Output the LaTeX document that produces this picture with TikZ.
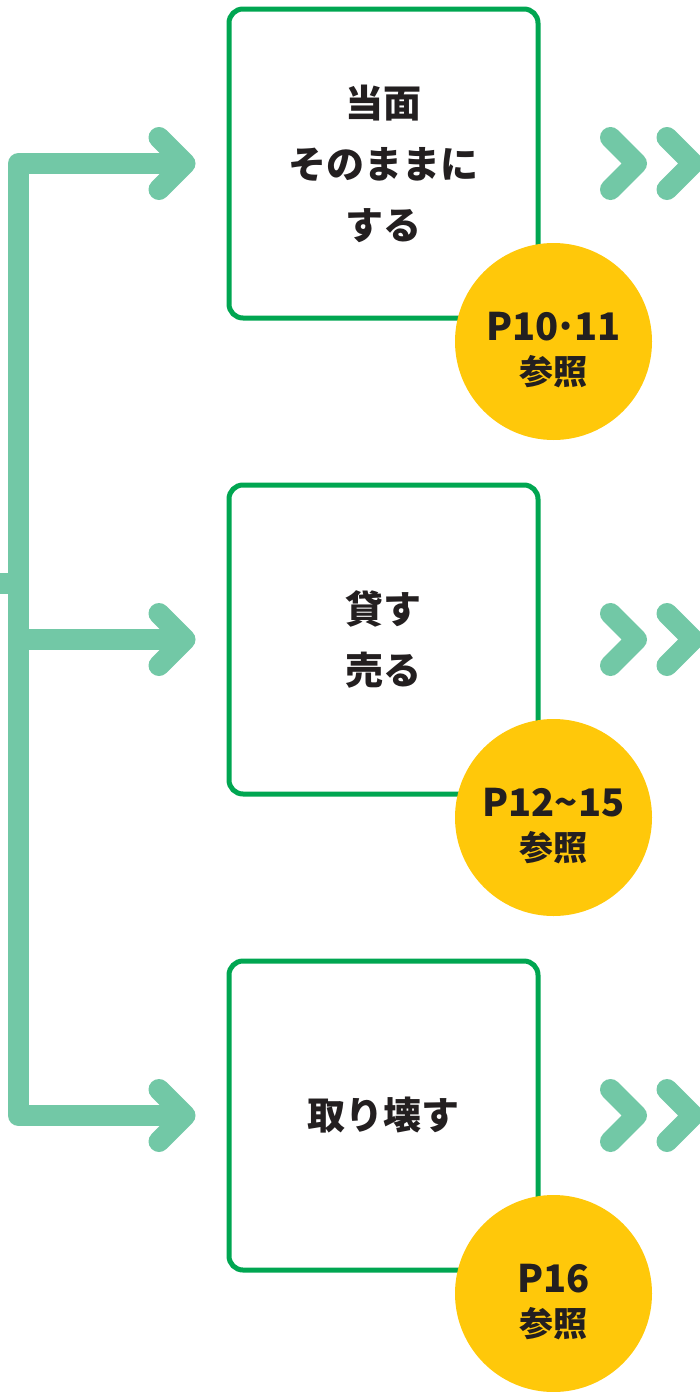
\documentclass[tikz,border=0pt]{standalone}
\usepackage{fontspec}
\setmainfont{Noto Sans CJK JP}
\usetikzlibrary{positioning,calc}
\definecolor{boxgreen}{RGB}{0,166,81}
\definecolor{armgreen}{RGB}{114,200,166}
\definecolor{refyellow}{RGB}{255,200,10}
\definecolor{textdark}{RGB}{35,31,32}
\tikzset{
  choice/.style={draw=boxgreen, fill=white, line width=5pt, rounded corners=14pt,
    minimum width=309pt, minimum height=309pt, align=center, text=textdark,
    font=\fontsize{38}{61}\selectfont\bfseries},
  refdot/.style={circle, fill=refyellow, minimum size=197pt, inner sep=0pt},
  pagetext/.style={text=textdark, inner sep=0pt, font=\fontsize{38}{40}\selectfont\bfseries},
  seetext/.style={text=textdark, inner sep=0pt, font=\fontsize{34}{36}\selectfont\bfseries},
  arm/.style={draw=armgreen, line width=21pt, line join=round},
  chev/.style={arm, line cap=round},
}

\begin{document}
\begin{tikzpicture}[x=1pt, y=-1pt]
  \useasboundingbox (0,0) rectangle (700,1392);
  \clip (0,0) rectangle (700,1392);

  % Define nodes
  \node[choice]                   (opt1) at (383.5,163.5) {当面\\そのままに\\する};
  \node[choice, below=162pt of opt1] (opt2) {貸す\\売る};
  \node[choice, below=162pt of opt2] (opt3) {取り壊す};

  \node[refdot] (ref1) at ($(opt1.center)+(170,178)$) {};
  \node[refdot] (ref2) at ($(opt2.center)+(170,178)$) {};
  \node[refdot] (ref3) at ($(opt3.center)+(170,178)$) {};

  \node[pagetext] (pg1) at ($(ref1)+(0,-14.5)$) {P10\kern-4pt·\kern-4pt11};
  \node[seetext]  (see1) at ($(ref1)+(0,30.5)$) {参照};
  \node[pagetext] (pg2) at ($(ref2)+(0,-14.5)$) {P12\textasciitilde15};
  \node[seetext]  (see2) at ($(ref2)+(0,30.5)$) {参照};
  \node[pagetext] (pg3) at ($(ref3)+(0,-14.5)$) {P16};
  \node[seetext]  (see3) at ($(ref3)+(0,30.5)$) {参照};

  \coordinate (in)    at (0,583);
  \coordinate (trunk) at (18.5,583);
  \coordinate[left=41.5pt of opt1.west] (tip1);
  \coordinate[left=41.5pt of opt2.west] (tip2);
  \coordinate[left=41.5pt of opt3.west] (tip3);

  % Connect the nodes
  \draw[arm] (tip1) -| (trunk) |- (tip3);
  \draw[arm] (trunk |- tip2) -- (tip2);
  \draw[arm] (in) -- (trunk);
  \foreach \t in {tip1,tip2,tip3}
    \draw[chev] ($(\t)+(-26,-26)$) -- (\t) -- ($(\t)+(-26,26)$);

  % Next steps
  \foreach \n in {opt1,opt2,opt3} {
    \draw[chev] ($(\n.east)+(70,-26)$) -- ($(\n.east)+(96,0)$) -- ($(\n.east)+(70,26)$);
    \draw[chev] ($(\n.east)+(126.5,-26)$) -- ($(\n.east)+(152.5,0)$) -- ($(\n.east)+(126.5,26)$);
  }
\end{tikzpicture}
\end{document}
